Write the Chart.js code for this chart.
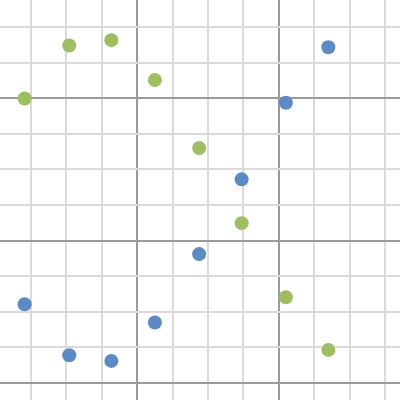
<!DOCTYPE html>
<html>
<head>
<meta charset="utf-8">
<script src="https://cdn.jsdelivr.net/npm/chart.js@4/dist/chart.umd.min.js"></script>
<style>
    html, body { margin: 0; padding: 0; background: #fff; }
    canvas { display: block; }
</style>
</head>
<body>
<canvas id="chart" width="400" height="400"></canvas>
<script>
// x positions shared by both series (grid units)
const xValues = [-3.18, -1.92, -0.73, 0.50, 1.75, 2.95, 4.20, 5.40];
const greenY = [3.99, 5.48, 5.63, 4.51, 2.60, 0.49, -1.59, -3.07];
const blueY = [-1.79, -3.22, -3.38, -2.30, -0.38, 1.72, 3.87, 5.43];

// visible window of the plane
const xRange = [-3.876, 7.424];
const yRange = [-4.478, 6.758];

const toPoints = ys => ys.map((y, i) => ({ x: xValues[i], y: y }));

const gridColor = ctx => (ctx.tick && Math.round(ctx.tick.value) % 4 === 0) ? '#9a9a9a' : '#dadada';

const axis = (range) => ({
    type: 'linear',
    min: range[0],
    max: range[1],
    border: { display: false },
    ticks: { display: false, stepSize: 1, includeBounds: false },
    grid: { color: gridColor, lineWidth: 2, drawTicks: false }
});

new Chart(document.getElementById('chart').getContext('2d'), {
    type: 'scatter',
    data: {
        datasets: [
            {
                label: 'green',
                data: toPoints(greenY),
                backgroundColor: '#9dbf5f',
                borderWidth: 0,
                pointRadius: 7
            },
            {
                label: 'blue',
                data: toPoints(blueY),
                backgroundColor: '#5b8bc7',
                borderWidth: 0,
                pointRadius: 7
            }
        ]
    },
    options: {
        responsive: false,
        animation: false,
        layout: { padding: 0, autoPadding: false },
        plugins: {
            legend: { display: false },
            tooltip: { enabled: false }
        },
        scales: {
            x: axis(xRange),
            y: axis(yRange)
        }
    }
});
</script>
</body>
</html>
